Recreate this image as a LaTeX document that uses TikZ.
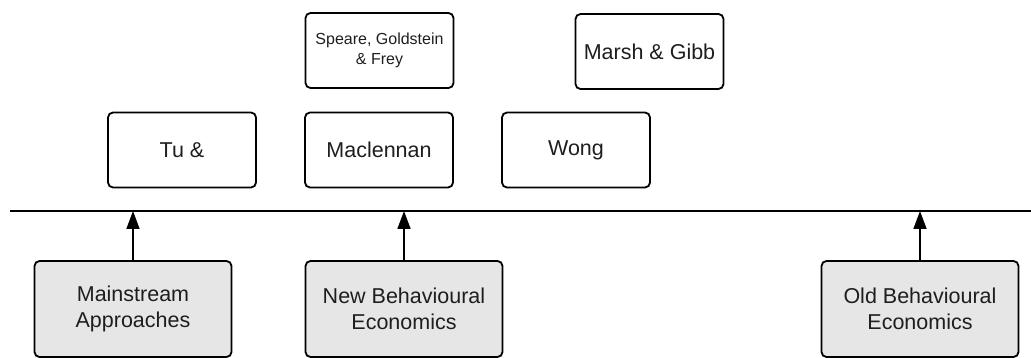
\documentclass[tikz,border=0pt]{standalone}
\usepackage{fontspec}
\setmainfont{Liberation Sans}
\usetikzlibrary{arrows.meta}
\definecolor{grau}{HTML}{E6E6E6}
\definecolor{schrift}{HTML}{1E1E1E}
\tikzset{
  kasten/.style={draw, line width=1.8pt, rounded corners=5pt, minimum width=148pt,
    minimum height=75pt, inner sep=0pt, align=center, text=schrift,
    font=\fontsize{21.5}{26}\selectfont},
  ansatz/.style={kasten, fill=grau, minimum width=197pt, minimum height=96pt},
  pfeil/.style={-{Triangle[length=18pt,width=13pt]}, line width=1.8pt},
}
\begin{document}
\begin{tikzpicture}[x=1pt, y=-1pt]
  \useasboundingbox (0,0) rectangle (1031,358);
  % Autoren
  \node[kasten, font=\fontsize{16}{20}\selectfont] (speare) at (379.5, 50.5) {Speare, Goldstein\\\& Frey};
  \node[kasten] (marsh) at (649.5, 51.5) {Marsh \& Gibb};
  \node[kasten] (tu)    at (182, 150) {Tu \&};
  \node[kasten] (macl)  at (379, 150) {Maclennan};
  \node[kasten] (wong)  at (576, 150) {Wong};
  % Zeitachse
  \coordinate (achseL) at (10, 211);
  \coordinate (achseR) at (1031, 211);
  \draw[line width=1.8pt] (achseL) -- (achseR);
  % Ansaetze
  \node[ansatz] (main) at (133, 309) {Mainstream\\Approaches};
  \node[ansatz] (neu)  at (404, 309) {New Behavioural\\Economics};
  \node[ansatz] (alt)  at (920, 309) {Old Behavioural\\Economics};
  % Pfeile
  \draw[pfeil] (main.north) -- (main.north |- achseL);
  \draw[pfeil] (neu.north) -- (neu.north |- achseL);
  \draw[pfeil] (alt.north) -- (alt.north |- achseL);
\end{tikzpicture}
\end{document}
